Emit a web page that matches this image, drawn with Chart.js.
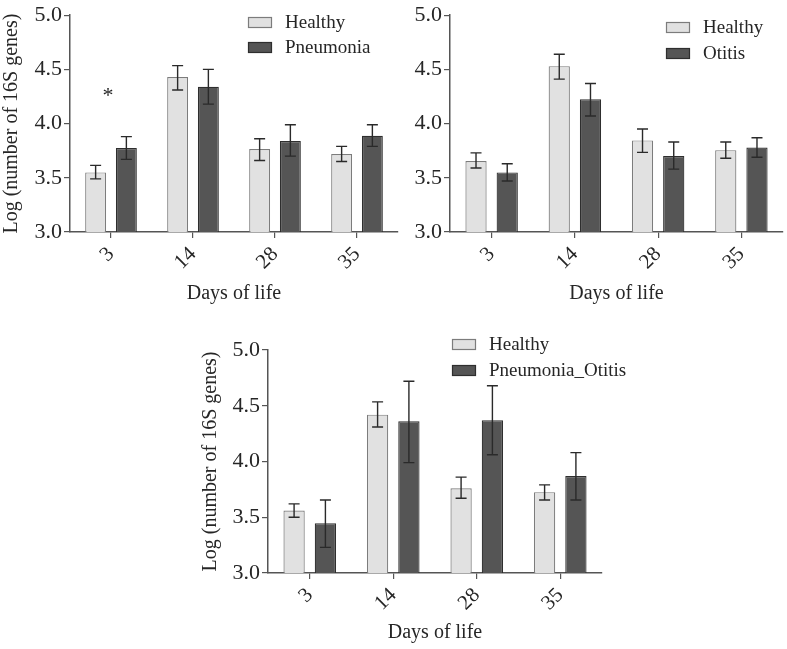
<!DOCTYPE html>
<html><head><meta charset="utf-8">
<script src="https://cdn.jsdelivr.net/npm/chart.js@4.4.0/dist/chart.umd.min.js"></script>
<style>
html,body{margin:0;padding:0;background:#fff;width:787px;height:649px;overflow:hidden;}
.panel{position:absolute;}
canvas{display:block;}
</style></head><body>
<div class="panel" style="left:0;top:0;"><canvas id="c1" width="400" height="310"></canvas></div>
<div class="panel" style="left:392px;top:0;"><canvas id="c2" width="395" height="310"></canvas></div>
<div class="panel" style="left:199px;top:320px;"><canvas id="c3" width="470" height="329"></canvas></div>
<script>
// ---- data ----
const days = ['3', '14', '28', '35'];
const yTicks = [3.0, 3.5, 4.0, 4.5, 5.0];

const healthyA = [3.55, 4.43, 3.765, 3.72];
const healthyALow = [3.49, 4.31, 3.66, 3.65];
const healthyAHigh = [3.615, 4.535, 3.86, 3.79];
const pneumonia = [3.775, 4.34, 3.84, 3.887];
const pneumoniaLow = [3.67, 4.18, 3.70, 3.79];
const pneumoniaHigh = [3.88, 4.50, 3.99, 3.99];

const healthyB = [3.655, 4.53, 3.845, 3.755];
const healthyBLow = [3.59, 4.41, 3.735, 3.68];
const healthyBHigh = [3.73, 4.64, 3.95, 3.83];
const otitis = [3.55, 4.225, 3.70, 3.78];
const otitisLow = [3.47, 4.07, 3.58, 3.69];
const otitisHigh = [3.63, 4.37, 3.83, 3.87];

const healthyC = [3.56, 4.42, 3.76, 3.725];
const healthyCLow = [3.50, 4.31, 3.67, 3.655];
const healthyCHigh = [3.62, 4.535, 3.86, 3.79];
const pneuOtitis = [3.446, 4.36, 4.37, 3.87];
const pneuOtitisLow = [3.23, 3.99, 4.06, 3.655];
const pneuOtitisHigh = [3.655, 4.72, 4.68, 4.08];

const sigMarksA = [{ day: '3', value: 4.29, text: '*' }];

const xTitle = 'Days of life';
const yTitle = 'Log (number of 16S genes)';

// ---- styles ----
const FONT = "'Liberation Serif', 'Times New Roman', serif";
const TXT = '#262626';
const AXIS = '#555555';
const LIGHT = '#e1e1e1', LIGHT_B = '#7c7c7c';
const DARK = '#555555', DARK_B = '#2e2e2e';

const errorBars = {
  id: 'errorBars',
  afterDatasetsDraw(chart) {
    const ctx = chart.ctx, y = chart.scales.y;
    chart.data.datasets.forEach((ds, di) => {
      const meta = chart.getDatasetMeta(di);
      meta.data.forEach((bar, i) => {
        const top = y.getPixelForValue(ds.errHigh[i]);
        const bot = y.getPixelForValue(ds.errLow[i]);
        const x = bar.x, hw = 5.5;
        ctx.save();
        ctx.strokeStyle = '#2a2a2a';
        ctx.lineWidth = 1.4;
        ctx.beginPath();
        ctx.moveTo(x, top); ctx.lineTo(x, bot);
        ctx.moveTo(x - hw, top); ctx.lineTo(x + hw, top);
        ctx.moveTo(x - hw, bot); ctx.lineTo(x + hw, bot);
        ctx.stroke();
        ctx.restore();
      });
    });
  }
};

const boxLegend = {
  id: 'boxLegend',
  afterDraw(chart, args, opts) {
    const ctx = chart.ctx;
    chart.data.datasets.forEach((ds, i) => {
      const bx = opts.x, by = opts.y + i * opts.gap;
      ctx.save();
      ctx.fillStyle = ds.backgroundColor;
      ctx.strokeStyle = ds.borderColor;
      ctx.lineWidth = 1.2;
      ctx.fillRect(bx, by, 24, 11);
      ctx.strokeRect(bx + 0.5, by + 0.5, 23, 10);
      ctx.fillStyle = TXT;
      ctx.font = '19px ' + FONT;
      ctx.textBaseline = 'middle';
      ctx.fillText(ds.label, bx + 37, by + 6);
      ctx.restore();
    });
  }
};

const sigMarks = {
  id: 'sigMarks',
  afterDraw(chart, args, opts) {
    const marks = opts.marks || [];
    const ctx = chart.ctx;
    marks.forEach(m => {
      const x = chart.scales.x.getPixelForValue(days.indexOf(m.day)) - 3;
      const y = chart.scales.y.getPixelForValue(m.value);
      ctx.save();
      ctx.fillStyle = TXT;
      ctx.font = '22px ' + FONT;
      ctx.textAlign = 'center';
      ctx.textBaseline = 'middle';
      ctx.fillText(m.text, x, y + 4);
      ctx.restore();
    });
  }
};

function makeChart(id, sets, cfg) {
  return new Chart(document.getElementById(id), {
    type: 'bar',
    data: {
      labels: days,
      datasets: sets.map((s, i) => ({
        label: s.label,
        data: s.data,
        errLow: s.low,
        errHigh: s.high,
        backgroundColor: i === 0 ? LIGHT : DARK,
        borderColor: i === 0 ? LIGHT_B : DARK_B,
        borderWidth: 1.2,
        categoryPercentage: 0.75,
        barPercentage: 0.68
      }))
    },
    options: {
      responsive: false,
      animation: false,
      devicePixelRatio: 1,
      layout: { padding: cfg.padding },
      plugins: {
        legend: { display: false },
        tooltip: { enabled: false },
        boxLegend: cfg.legend,
        sigMarks: { marks: cfg.marks || [] }
      },
      scales: {
        x: {
          grid: { display: true, drawOnChartArea: false, drawTicks: true, tickLength: 6, offset: false, color: AXIS, lineWidth: 1.2 },
          border: { color: AXIS, width: 1.5 },
          ticks: { color: TXT, font: { family: FONT, size: 21 }, minRotation: 45, maxRotation: 45, padding: 4 },
          title: { display: true, text: xTitle, color: TXT, font: { family: FONT, size: 20 }, padding: { top: 0, bottom: 4 } },
          afterFit: s => { s.height = cfg.xH; }
        },
        y: {
          min: 3, max: 5,
          afterBuildTicks: s => { s.ticks = yTicks.map(v => ({ value: v })); },
          grid: { display: true, drawOnChartArea: false, drawTicks: true, tickLength: 6, color: AXIS, lineWidth: 1.2 },
          border: { color: AXIS, width: 1.5 },
          ticks: { color: TXT, font: { family: FONT, size: 22 }, padding: 2, callback: v => Number(v).toFixed(1) },
          title: { display: cfg.yTitle, text: yTitle, color: TXT, font: { family: FONT, size: 20 }, padding: 0 },
          afterFit: s => { s.width = cfg.yW; }
        }
      }
    },
    plugins: [errorBars, boxLegend, sigMarks]
  });
}

makeChart('c1', [
  { label: 'Healthy', data: healthyA, low: healthyALow, high: healthyAHigh },
  { label: 'Pneumonia', data: pneumonia, low: pneumoniaLow, high: pneumoniaHigh }
], { padding: { left: 0, top: 11, right: 2, bottom: 0 }, yW: 70, xH: 78, yTitle: true,
     legend: { x: 248, y: 17, gap: 25 }, marks: sigMarksA });

makeChart('c2', [
  { label: 'Healthy', data: healthyB, low: healthyBLow, high: healthyBHigh },
  { label: 'Otitis', data: otitis, low: otitisLow, high: otitisHigh }
], { padding: { left: 0, top: 11, right: 4, bottom: 0 }, yW: 58, xH: 78, yTitle: false,
     legend: { x: 274, y: 22, gap: 26 } });

makeChart('c3', [
  { label: 'Healthy', data: healthyC, low: healthyCLow, high: healthyCHigh },
  { label: 'Pneumonia_Otitis', data: pneuOtitis, low: pneuOtitisLow, high: pneuOtitisHigh }
], { padding: { left: 0, top: 30, right: 67, bottom: 0 }, yW: 69, xH: 76, yTitle: true,
     legend: { x: 253, y: 19, gap: 26 } });
</script>
</body></html>
